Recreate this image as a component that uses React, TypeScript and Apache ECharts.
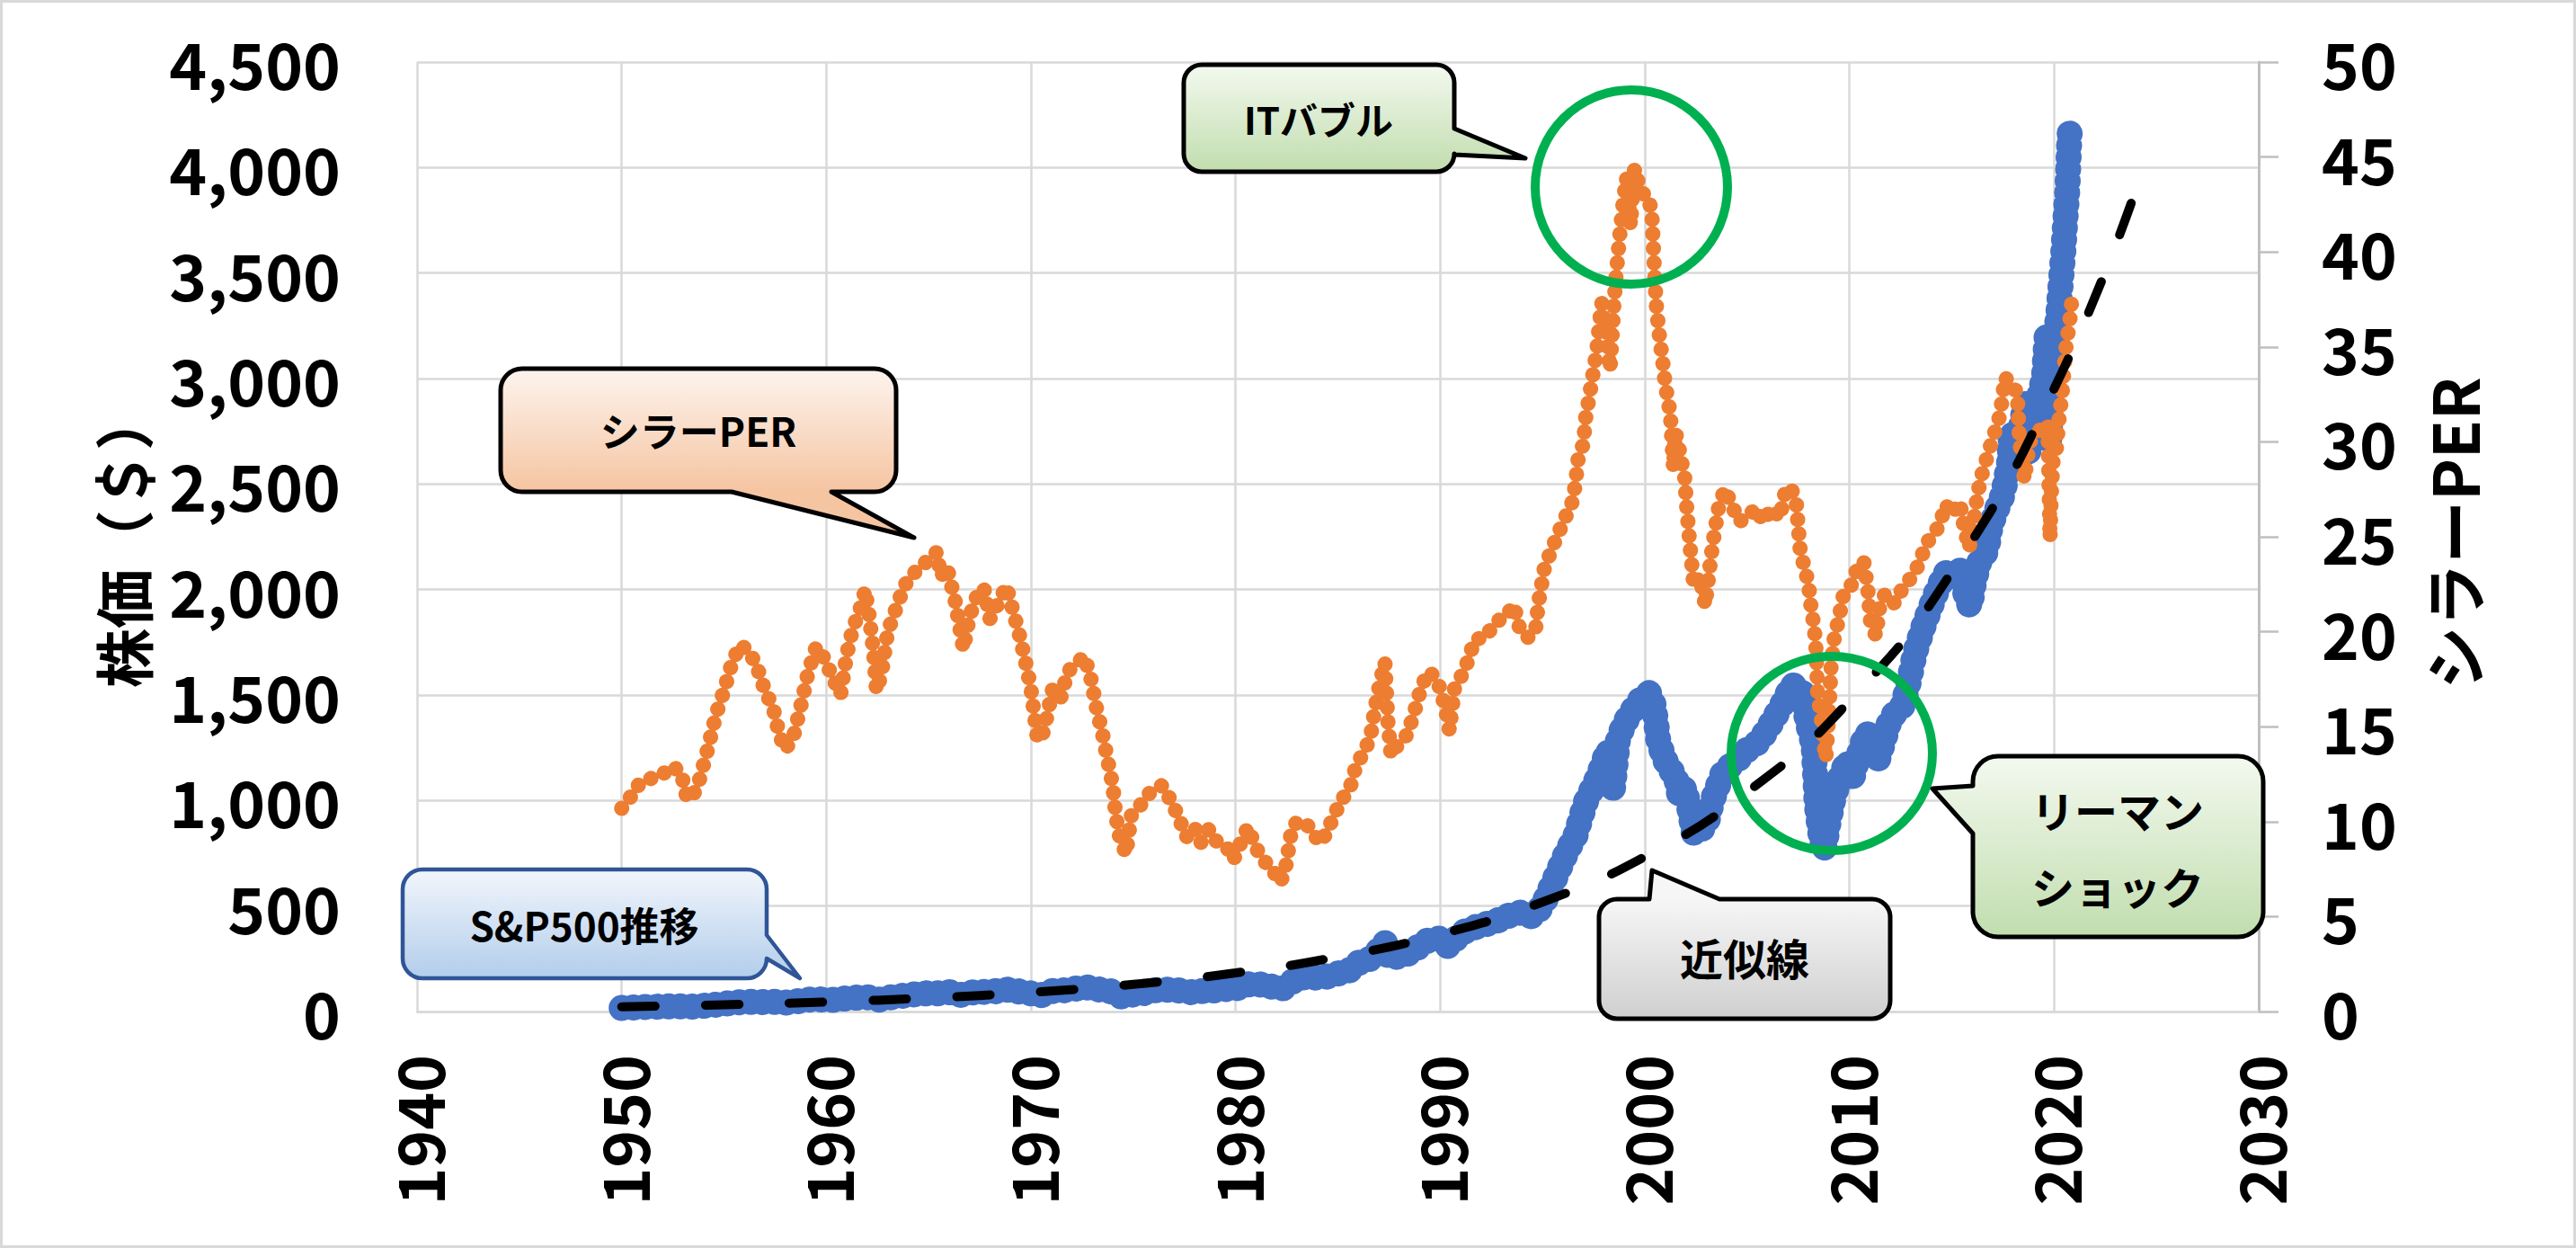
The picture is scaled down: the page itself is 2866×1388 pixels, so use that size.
import React, { useEffect, useRef } from "react";
import * as echarts from "echarts";

const FONT = '"Noto Sans CJK JP", "Noto Sans", sans-serif';

// ---- S&P500 readings (year, price $) ----
const spYears = [
  1950.0, 1950.5, 1951.0, 1951.5, 1952.0, 1952.5, 1953.0, 1953.4, 1954.0, 1954.5,
  1955.0, 1955.5, 1956.0, 1956.5, 1957.0, 1957.5, 1957.8, 1958.2, 1958.6, 1959.0,
  1959.5, 1960.0, 1960.5, 1961.0, 1961.5, 1961.9, 1962.2, 1962.4, 1962.7, 1963.0,
  1963.5, 1964.0, 1964.5, 1965.0, 1965.5, 1966.0, 1966.4, 1966.7, 1967.0, 1967.5,
  1968.0, 1968.5, 1968.8, 1969.2, 1969.6, 1970.0, 1970.3, 1970.6, 1971.0, 1971.5,
  1972.0, 1972.6, 1973.0, 1973.5, 1974.0, 1974.4, 1974.7, 1975.0, 1975.5, 1976.0,
  1976.5, 1977.0, 1977.5, 1978.0, 1978.5, 1979.0, 1979.5, 1980.0, 1980.5, 1981.0,
  1981.5, 1982.0, 1982.3, 1982.7, 1983.0, 1983.5, 1984.0, 1984.5, 1985.0, 1985.5,
  1986.0, 1986.5, 1987.0, 1987.3, 1987.45, 1987.8, 1988.3, 1988.8, 1989.2, 1989.7,
  1990.0, 1990.4, 1990.7, 1991.0, 1991.5, 1992.0, 1992.5, 1993.0, 1993.5, 1994.0,
  1994.5, 1995.0, 1995.7, 1996.2, 1996.6, 1997.1, 1997.7, 1998.2, 1998.45, 1998.7,
  1999.2, 1999.8, 2000.2, 2000.45, 2000.65, 2000.9, 2001.2, 2001.5, 2001.7, 2001.95,
  2002.2, 2002.4, 2002.7, 2003.0, 2003.3, 2003.85, 2004.4, 2005.0, 2005.6, 2006.2,
  2006.8, 2007.2, 2007.7, 2007.95, 2008.25, 2008.4, 2008.55, 2008.75, 2008.95, 2009.2,
  2009.5, 2009.9, 2010.1, 2010.4, 2010.8, 2011.1, 2011.35, 2011.7, 2012.0, 2012.3,
  2012.6, 2012.9, 2013.2, 2013.6, 2013.9, 2014.3, 2014.7, 2015.0, 2015.3, 2015.5,
  2015.7, 2015.9, 2016.1, 2016.4, 2016.7, 2016.9, 2017.2, 2017.5, 2017.8, 2017.9,
  2018.1, 2018.4, 2018.6, 2018.75, 2018.9, 2019.1, 2019.3, 2019.5, 2019.65, 2019.75,
  2019.85, 2020.0, 2020.2, 2020.3, 2020.45, 2020.55, 2020.65, 2020.75, 2020.8,
];
const spPrices = [
  17, 19, 21.5, 22, 24, 25, 25, 23.5, 27, 31,
  37, 42, 46, 46, 45, 46, 41, 43, 49, 56,
  58, 56, 55, 63, 66, 71, 63, 56, 57, 66,
  71, 79, 83, 87, 86, 92, 81, 78, 89, 94,
  92, 100, 104, 99, 92, 86, 73, 80, 97, 99,
  105, 117, 110, 102, 94, 72, 70, 82, 87, 100,
  104, 102, 97, 89, 100, 100, 107, 108, 128, 131,
  124, 113, 109, 138, 152, 167, 160, 166, 180, 190,
  230, 245, 290, 328, 255, 258, 268, 295, 330, 345,
  345, 308, 338, 372, 390, 412, 418, 440, 460, 470,
  450, 500, 650, 760, 830, 990, 1110, 1240, 1060, 1300,
  1400, 1480, 1510, 1450, 1290, 1210, 1150, 1120, 1020, 1060,
  950, 840, 860, 880, 1000, 1140, 1180, 1240, 1280, 1370,
  1470, 1550, 1510, 1370, 1260, 980, 860, 757, 880, 1000,
  1100, 1190, 1090, 1200, 1320, 1300, 1180, 1290, 1390, 1420,
  1450, 1560, 1700, 1820, 1900, 2000, 2080, 2050, 2100, 2080,
  1960, 1920, 2040, 2150, 2180, 2300, 2380, 2450, 2600, 2750,
  2700, 2780, 2880, 2650, 2700, 2850, 2930, 3000, 3220, 2700,
  2850, 3150, 3300, 3420, 3600, 3750, 3900, 4150, 4190,
];

// ---- Shiller PER readings (year, CAPE) ----
const capeYears = [
  1950.0, 1950.3, 1950.6, 1951.0, 1951.5, 1952.0, 1952.5, 1952.9, 1953.2, 1953.5,
  1953.8, 1954.2, 1954.6, 1955.0, 1955.4, 1955.8, 1956.2, 1956.6, 1957.0, 1957.4,
  1957.7, 1958.0, 1958.4, 1958.8, 1959.1, 1959.5, 1959.9, 1960.3, 1960.7, 1961.0,
  1961.3, 1961.6, 1961.9, 1962.1, 1962.3, 1962.45, 1962.7, 1963.0, 1963.4, 1963.8,
  1964.2, 1964.6, 1965.0, 1965.4, 1965.6, 1965.9, 1966.3, 1966.7, 1967.0, 1967.4,
  1967.7, 1968.0, 1968.4, 1968.8, 1969.1, 1969.4, 1969.7, 1970.0, 1970.3, 1970.5,
  1970.8, 1971.1, 1971.4, 1971.8, 1972.2, 1972.6, 1972.9, 1973.2, 1973.5, 1973.7,
  1974.0, 1974.15, 1974.35, 1974.65, 1974.9, 1975.2, 1975.6, 1976.0, 1976.4, 1976.9,
  1977.3, 1977.6, 1978.0, 1978.3, 1978.7, 1979.1, 1979.6, 1979.9, 1980.3, 1980.6,
  1981.0, 1981.5, 1981.9, 1982.2, 1982.45, 1982.7, 1982.9, 1983.4, 1983.8, 1984.2,
  1984.6, 1985.1, 1985.6, 1985.9, 1986.3, 1986.6, 1986.8, 1987.05, 1987.3, 1987.45,
  1987.6, 1987.9, 1988.4, 1988.8, 1989.1, 1989.5, 1989.9, 1990.25, 1990.45, 1990.7,
  1991.2, 1991.7, 1992.2, 1992.7, 1993.2, 1993.6, 1993.9, 1994.3, 1994.65, 1994.8,
  1995.1, 1995.4, 1995.7, 1996.1, 1996.4, 1996.6, 1996.75, 1997.0, 1997.1, 1997.35,
  1997.65, 1997.8, 1997.9, 1998.15, 1998.3, 1998.5, 1998.6, 1998.75, 1998.95, 1999.1,
  1999.3, 1999.5, 1999.7, 2000.0, 2000.2, 2000.35, 2000.45, 2000.55, 2000.7, 2000.9,
  2001.0, 2001.15, 2001.25, 2001.4, 2001.5, 2001.7, 2001.95, 2002.05, 2002.2, 2002.4,
  2002.7, 2002.95, 2003.3, 2003.6, 2003.9, 2004.2, 2004.6, 2005.0, 2005.4, 2005.8,
  2006.2, 2006.6, 2006.9, 2007.2, 2007.4, 2007.6, 2007.8, 2008.0, 2008.1, 2008.2,
  2008.35, 2008.45, 2008.55, 2008.65, 2008.75, 2008.85, 2009.0, 2009.1, 2009.25, 2009.5,
  2009.7, 2010.0, 2010.4, 2010.7, 2010.9, 2011.05, 2011.3, 2011.5, 2011.75, 2012.2,
  2012.6, 2013.2, 2013.8, 2014.4, 2014.7, 2015.0, 2015.4, 2015.6, 2015.85, 2016.1,
  2016.25, 2016.45, 2016.7, 2016.95, 2017.3, 2017.45, 2017.6, 2017.9, 2018.2, 2018.3,
  2018.55, 2018.8, 2019.2, 2019.5, 2019.7, 2019.8, 2019.87, 2019.95, 2020.1, 2020.25,
  2020.4, 2020.5, 2020.6, 2020.75, 2020.9,
];
const capeValues = [
  10.7, 11.0, 11.7, 12.1, 12.3, 12.5, 12.9, 12.6, 11.2, 11.4,
  12.2, 13.8, 15.6, 16.9, 18.4, 19.3, 19.0, 18.2, 16.9, 16.0,
  14.6, 13.8, 14.5, 16.3, 17.8, 19.2, 18.6, 17.6, 16.7, 18.8,
  20.2, 21.0, 22.2, 20.8, 19.0, 16.9, 17.8, 20.0, 21.2, 22.4,
  23.0, 23.4, 23.8, 24.2, 22.9, 23.4, 21.6, 19.1, 20.8, 22.0,
  22.3, 20.7, 21.5, 22.4, 21.2, 20.0, 18.6, 17.0, 14.5, 14.3,
  15.6, 17.2, 16.3, 17.9, 18.3, 18.7, 17.7, 16.0, 14.6, 13.5,
  11.9, 10.3, 9.1, 8.3, 10.3, 10.6, 11.3, 11.7, 11.9, 11.0,
  10.0, 9.2, 9.7, 8.9, 9.6, 8.9, 8.6, 8.0, 9.0, 9.7,
  8.6, 7.8, 7.3, 6.8, 7.6, 9.3, 9.9, 10.0, 9.3, 8.9,
  9.8, 11.0, 11.8, 13.0, 13.7, 14.5, 15.9, 17.3, 18.4, 15.2,
  13.5, 14.0, 14.6, 16.0, 17.2, 17.9, 17.3, 16.0, 14.8, 17.0,
  18.0, 19.6, 19.7, 20.5, 20.8, 21.4, 20.1, 19.7, 20.0, 21.5,
  23.4, 24.2, 25.0, 26.0, 26.6, 27.7, 29.2, 29.9, 31.2, 32.8,
  34.8, 36.4, 37.3, 35.5, 33.8, 37.4, 38.8, 40.6, 42.7, 43.9,
  41.4, 44.4, 43.6, 42.9, 42.8, 41.9, 39.5, 37.3, 35.7, 34.0,
  33.0, 32.1, 31.4, 28.6, 30.5, 29.5, 28.1, 26.5, 24.6, 22.4,
  22.9, 21.4, 24.5, 26.5, 27.5, 26.8, 25.8, 26.0, 26.5, 25.8,
  26.5, 26.0, 27.6, 27.4, 26.8, 24.2, 23.4, 22.5, 21.5, 20.8,
  19.5, 16.6, 16.0, 15.2, 14.1, 13.3, 15.8, 18.1, 19.6, 20.8,
  21.9, 22.2, 23.4, 23.7, 22.2, 20.3, 19.8, 21.5, 22.0, 21.5,
  22.3, 23.1, 24.7, 25.6, 26.7, 26.2, 26.8, 25.5, 24.4, 26.0,
  27.2, 28.2, 29.1, 30.0, 31.2, 32.1, 33.4, 33.0, 32.6, 30.2,
  28.0, 30.0, 30.4, 31.0, 30.8, 24.9, 27.4, 29.0, 29.5, 31.3,
  32.6, 34.0, 35.2, 36.2, 37.8,
];

// ---- Exponential trend line (近似線) readings ----
const trendYears = [1950, 1955, 1960, 1965, 1970, 1975, 1980, 1985, 1990, 1995, 2000, 2005, 2010, 2015, 2020, 2023.8];
const trendValues = [22.7, 32.1, 45.5, 64.4, 91.2, 129, 183, 259, 366, 519, 734, 1040, 1472, 2084, 2951, 3840];

// ---- Axis ranges / annotation texts ----
const xRange = [1940, 2030, 10];
const priceRange = [0, 4500, 500];
const capeRange = [0, 50, 5];
const leftTitle = "株価（＄）";
const rightTitle = "シラーPER";
const calloutTexts = {
  it: "ITバブル",
  cape: "シラーPER",
  sp: "S&P500推移",
  trend: "近似線",
  lehman1: "リーマン",
  lehman2: "ショック",
};

const pairs = (xs: number[], ys: number[]) => xs.map((x, i) => [x, ys[i]]);

type Tail = { edge: "top" | "right" | "bottom" | "left"; from: number; to: number; tip: [number, number] };

function calloutPath(x0: number, y0: number, x1: number, y1: number, r: number, t: Tail) {
  const p: string[] = [];
  const tip = `L ${t.tip[0]} ${t.tip[1]}`;
  p.push(`M ${x0 + r} ${y0}`);
  if (t.edge === "top") p.push(`L ${t.from} ${y0} ${tip} L ${t.to} ${y0}`);
  p.push(`L ${x1 - r} ${y0} A ${r} ${r} 0 0 1 ${x1} ${y0 + r}`);
  if (t.edge === "right") p.push(`L ${x1} ${t.from} ${tip} L ${x1} ${t.to}`);
  p.push(`L ${x1} ${y1 - r} A ${r} ${r} 0 0 1 ${x1 - r} ${y1}`);
  if (t.edge === "bottom") p.push(`L ${t.from} ${y1} ${tip} L ${t.to} ${y1}`);
  p.push(`L ${x0 + r} ${y1} A ${r} ${r} 0 0 1 ${x0} ${y1 - r}`);
  if (t.edge === "left") p.push(`L ${x0} ${t.from} ${tip} L ${x0} ${t.to}`);
  p.push(`L ${x0} ${y0 + r} A ${r} ${r} 0 0 1 ${x0 + r} ${y0} Z`);
  return p.join(" ");
}

const boxes = [
  { name: "coIT", b: [1317, 72, 1618, 191, 20], tail: { edge: "right", from: 143, to: 172, tip: [1697, 176] }, g: ["#F3F9EF", "#C1DDAE"], stroke: "#000", lw: 5 },
  { name: "coCAPE", b: [557, 410, 997, 547, 24], tail: { edge: "bottom", from: 925, to: 814, tip: [1017, 598] }, g: ["#FDF4EE", "#F5C4A1"], stroke: "#000", lw: 5 },
  { name: "coSP", b: [448, 967, 853, 1088, 22], tail: { edge: "right", from: 1040, to: 1066, tip: [890, 1088] }, g: ["#F2F6FC", "#B2CDEB"], stroke: "#2F5597", lw: 4.5 },
  { name: "coTrend", b: [1779, 1000, 2103, 1133, 20], tail: { edge: "top", from: 1835, to: 1913, tip: [1838, 968] }, g: ["#F6F6F6", "#CFCFCF"], stroke: "#000", lw: 5 },
  { name: "coLehman", b: [2195, 841, 2518, 1042, 28], tail: { edge: "left", from: 927, to: 874, tip: [2150, 877] }, g: ["#F3F9EF", "#C1DDAE"], stroke: "#000", lw: 5 },
];

let shapesRegistered = false;
function registerShapes() {
  if (shapesRegistered) return;
  shapesRegistered = true;
  boxes.forEach((bx) => {
    const [x0, y0, x1, y1, r] = bx.b;
    const d = calloutPath(x0, y0, x1, y1, r, bx.tail as Tail);
    echarts.graphic.registerShape(bx.name, echarts.graphic.extendPath(d, {}) as any);
  });
}

function txt(text: string, x: number, y: number, size: number, rotation = 0) {
  return {
    type: "text",
    x,
    y,
    rotation,
    z: 120,
    silent: true,
    style: {
      text,
      fill: "#000",
      fontSize: size,
      fontWeight: "bold",
      fontFamily: FONT,
      align: "center",
      verticalAlign: "middle",
    },
  };
}

export default function App() {
  const ref = useRef<HTMLDivElement>(null);
  useEffect(() => {
    document.body.style.margin = "0";
    if (!ref.current) return;
    registerShapes();
    const chart = echarts.init(ref.current, undefined, { renderer: "svg", width: 2866, height: 1388 });

    const labelStyle = { color: "#000", fontSize: 71, fontWeight: "bold", fontFamily: FONT };
    const grid = "#D9D9D9";

    const graphics: any[] = [
      {
        type: "rect",
        z: 0,
        silent: true,
        shape: { x: 1.5, y: 1.5, width: 2863, height: 1385 },
        style: { fill: "none", stroke: "#D9D9D9", lineWidth: 3 },
      },
      {
        type: "ellipse",
        z: 110,
        silent: true,
        shape: { cx: 1815, cy: 208, rx: 107, ry: 108 },
        style: { fill: "none", stroke: "#00B050", lineWidth: 10 },
      },
      {
        type: "ellipse",
        z: 110,
        silent: true,
        shape: { cx: 2038, cy: 838, rx: 112, ry: 108 },
        style: { fill: "none", stroke: "#00B050", lineWidth: 10 },
      },
      ...boxes.map((bx) => ({
        type: bx.name,
        x: 0,
        y: 0,
        z: 115,
        silent: true,
        style: {
          fill: {
            type: "linear",
            x: 0,
            y: bx.b[1],
            x2: 0,
            y2: bx.b[3],
            global: true,
            colorStops: [
              { offset: 0, color: bx.g[0] },
              { offset: 1, color: bx.g[1] },
            ],
          },
          stroke: bx.stroke,
          lineWidth: bx.lw,
          lineJoin: "round",
        },
      })),
      txt(calloutTexts.it, 1467, 131, 42),
      txt(calloutTexts.cape, 777, 478, 44),
      txt(calloutTexts.sp, 650, 1028, 44),
      txt(calloutTexts.trend, 1941, 1064, 48),
      txt(calloutTexts.lehman1, 2356, 900, 48),
      txt(calloutTexts.lehman2, 2356, 985, 48),
      txt(leftTitle, 135, 600, 66, Math.PI / 2),
      txt(rightTitle, 2728, 593, 70, Math.PI / 2),
    ];

    chart.setOption({
      animation: false,
      backgroundColor: "#fff",
      grid: { left: 464, top: 69, right: 353, bottom: 263, containLabel: false },
      xAxis: {
        type: "value",
        min: xRange[0],
        max: xRange[1],
        interval: xRange[2],
        axisLine: { show: true, lineStyle: { color: grid, width: 2.5 } },
        axisTick: { show: false },
        splitLine: { show: true, lineStyle: { color: grid, width: 2.5 } },
        axisLabel: { ...labelStyle, rotate: 90, margin: 48, formatter: (v: number) => String(v) },
      },
      yAxis: [
        {
          type: "value",
          min: priceRange[0],
          max: priceRange[1],
          interval: priceRange[2],
          axisLine: { show: false },
          axisTick: { show: false },
          splitLine: { show: true, lineStyle: { color: grid, width: 2.5 } },
          axisLabel: { ...labelStyle, margin: 85, formatter: (v: number) => v.toLocaleString("en-US") },
        },
        {
          type: "value",
          position: "right",
          min: capeRange[0],
          max: capeRange[1],
          interval: capeRange[2],
          axisLine: { show: true, lineStyle: { color: "#BFBFBF", width: 3 } },
          axisTick: { show: true, inside: false, length: 22, lineStyle: { color: "#BFBFBF", width: 2.5 } },
          splitLine: { show: false },
          axisLabel: { ...labelStyle, margin: 70 },
        },
      ],
      series: [
        {
          name: "S&P500",
          type: "line",
          yAxisIndex: 0,
          data: pairs(spYears, spPrices),
          showSymbol: false,
          symbol: "none",
          lineStyle: { color: "#4472C4", width: 29, type: [0.1, 13], cap: "round", join: "round" },
          z: 3,
        },
        {
          name: "シラーPER",
          type: "line",
          yAxisIndex: 1,
          data: pairs(capeYears, capeValues),
          showSymbol: false,
          symbol: "none",
          lineStyle: { color: "#ED7D31", width: 17, type: [0.1, 16], cap: "round", join: "round" },
          z: 4,
        },
        {
          name: "近似線",
          type: "line",
          yAxisIndex: 0,
          data: pairs(trendYears, trendValues),
          smooth: true,
          showSymbol: false,
          symbol: "none",
          lineStyle: { color: "#000", width: 10, type: [38, 57], cap: "round" },
          z: 5,
        },
      ],
      graphic: graphics,
    });

    // fit the dash period so the trend line both starts and ends with a dash
    const px = trendYears.map((yr, i) =>
      chart.convertToPixel({ xAxisIndex: 0, yAxisIndex: 0 }, [yr, trendValues[i]]) as number[]
    );
    let len = 0;
    for (let i = 1; i < px.length; i++) {
      len += Math.hypot(px[i][0] - px[i - 1][0], px[i][1] - px[i - 1][1]);
    }
    const dash = 38;
    const n = Math.max(1, Math.round((len - dash) / 95));
    const period = (len - dash) / n;
    const s = period / 95;
    chart.setOption({
      series: [{}, {}, { lineStyle: { type: [dash * s, 57 * s] } }],
    });

    return () => {
      chart.dispose();
    };
  }, []);

  return <div ref={ref} style={{ width: 2866, height: 1388, position: "absolute", left: 0, top: 0 }} />;
}
